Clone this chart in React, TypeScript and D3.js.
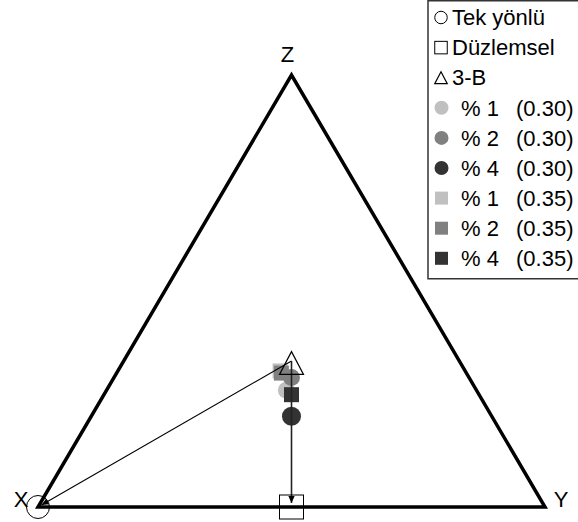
import React, { useEffect, useRef } from 'react'
import * as d3 from 'd3'

// reference states (ternary fractions X, Y, Z)
const refLabels = ['Tek yönlü', 'Düzlemsel', '3-B']
const refShapes = ['circle', 'square', 'triangle']
const refX = [1, 0.5, 1 / 3]
const refY = [0, 0.5, 1 / 3]
const refZ = [0, 0, 1 / 3]

// measured samples
const pctLabels = ['% 1', '% 2', '% 4', '% 1', '% 2', '% 4']
const ratioLabels = ['(0.30)', '(0.30)', '(0.30)', '(0.35)', '(0.35)', '(0.35)']
const sampleShapes = ['circle', 'circle', 'circle', 'square', 'square', 'square']
const sampleX = [0.375, 0.35, 0.395, 0.365, 0.365, 0.37]
const sampleY = [0.355, 0.35, 0.395, 0.32, 0.325, 0.37]
const sampleZ = [0.27, 0.3, 0.21, 0.315, 0.31, 0.26]

const shades = ['#c0c0c0', '#808080', '#333333']
const font = '"Liberation Sans", Arial, sans-serif'

export default function App () {
  const ref = useRef<SVGSVGElement>(null)

  useEffect(() => {
    const svg = d3.select(ref.current)
    svg.selectAll('*').remove()

    const sx = d3.scaleLinear().domain([0, 1]).range([38, 545])
    const sy = d3.scaleLinear().domain([0, 1]).range([507, 75])
    const proj = (a: number, b: number, c: number): [number, number] => [sx(b + c / 2), sy(c)]

    const defs = svg.append('defs')
    defs.append('marker')
      .attr('id', 'arr')
      .attr('viewBox', '0 0 10 10')
      .attr('refX', 10).attr('refY', 5)
      .attr('markerWidth', 8).attr('markerHeight', 7)
      .attr('markerUnits', 'userSpaceOnUse')
      .attr('orient', 'auto')
      .append('path').attr('d', 'M0,0.5 L10,5 L0,9.5 Z').attr('fill', '#000')

    // triangle frame
    const corners = [proj(1, 0, 0), proj(0, 1, 0), proj(0, 0, 1)]
    svg.append('path')
      .attr('d', d3.line()(corners) + 'Z')
      .attr('fill', 'none')
      .attr('stroke', '#000')
      .attr('stroke-width', 3.5)
      .attr('stroke-linejoin', 'miter')

    const lbl = svg.append('g').attr('font-family', font).attr('font-size', 22).attr('text-anchor', 'middle')
    lbl.append('text').attr('x', corners[0][0] - 17).attr('y', corners[0][1]).text('X')
    lbl.append('text').attr('x', corners[1][0] + 16).attr('y', corners[1][1]).text('Y')
    lbl.append('text').attr('x', corners[2][0] - 4).attr('y', corners[2][1] - 13).text('Z')

    const drawShape = (g: any, shape: string, x: number, y: number, size: number, fill: string, stroke: string) => {
      if (shape === 'circle') {
        g.append('circle').attr('cx', x).attr('cy', y).attr('r', size / 2)
          .attr('fill', fill).attr('stroke', stroke).attr('stroke-width', 1)
      } else if (shape === 'square') {
        g.append('rect').attr('x', x - size / 2).attr('y', y - size / 2)
          .attr('width', size).attr('height', size)
          .attr('fill', fill).attr('stroke', stroke).attr('stroke-width', 1)
      } else {
        const h = size * 0.95
        g.append('path')
          .attr('d', `M${x},${y - h / 2} L${x + size / 2},${y + h / 2} L${x - size / 2},${y + h / 2} Z`)
          .attr('fill', fill).attr('stroke', stroke).attr('stroke-width', 1.2)
      }
    }

    // samples
    const pts = svg.append('g')
    sampleX.forEach((_, i) => {
      const [x, y] = proj(sampleX[i], sampleY[i], sampleZ[i])
      const s = sampleShapes[i] === 'circle' ? (i === 2 ? 19 : 17) : 15
      drawShape(pts, sampleShapes[i], x, y, s, shades[i % 3], 'none')
    })

    // arrows from 3-B to other states
    const from = proj(refX[2], refY[2], refZ[2])
    for (let k = 0; k < 2; k++) {
      const to = proj(refX[k], refY[k], refZ[k])
      const dx = to[0] - from[0]
      const dy = to[1] - from[1]
      const len = Math.hypot(dx, dy)
      const end = [to[0] - dx / len * 4, to[1] - dy / len * 4]
      svg.append('line')
        .attr('x1', from[0]).attr('y1', from[1] - 2)
        .attr('x2', end[0]).attr('y2', end[1])
        .attr('stroke', k === 1 ? '#222' : '#000')
        .attr('stroke-width', k === 1 ? 1.6 : 1.1)
        .attr('marker-end', 'url(#arr)')
    }

    // reference markers
    const refs = svg.append('g')
    const refSize = [23, 24, 24]
    refLabels.forEach((_, i) => {
      const [x, y] = proj(refX[i], refY[i], refZ[i])
      drawShape(refs, refShapes[i], x, y, refSize[i], 'none', '#000')
    })

    // legend
    const lg = svg.append('g').attr('font-family', font).attr('font-size', 22)
    lg.append('rect').attr('x', 428).attr('y', 0.75).attr('width', 160).attr('height', 278)
      .attr('fill', '#fff').attr('stroke', '#333').attr('stroke-width', 1.5)
    const rowY = (i: number) => 17.5 + 30.1 * i
    refLabels.forEach((t, i) => {
      drawShape(lg, refShapes[i], 441, rowY(i), 12.5, 'none', '#000')
      lg.append('text').attr('x', 452).attr('y', rowY(i)).attr('dy', '0.35em').text(t)
    })
    pctLabels.forEach((t, i) => {
      const y = rowY(i + 3)
      drawShape(lg, sampleShapes[i], 441.5, y, sampleShapes[i] === 'circle' ? 14 : 13, shades[i % 3], 'none')
      lg.append('text').attr('x', 461).attr('y', y).attr('dy', '0.35em').text(t)
      lg.append('text').attr('x', 516).attr('y', y).attr('dy', '0.35em').text(ratioLabels[i])
    })
  }, [])

  return (
    <svg ref={ref} width={578} height={522} style={{ position: 'absolute', left: 0, top: 0, background: '#fff' }} />
  )
}
